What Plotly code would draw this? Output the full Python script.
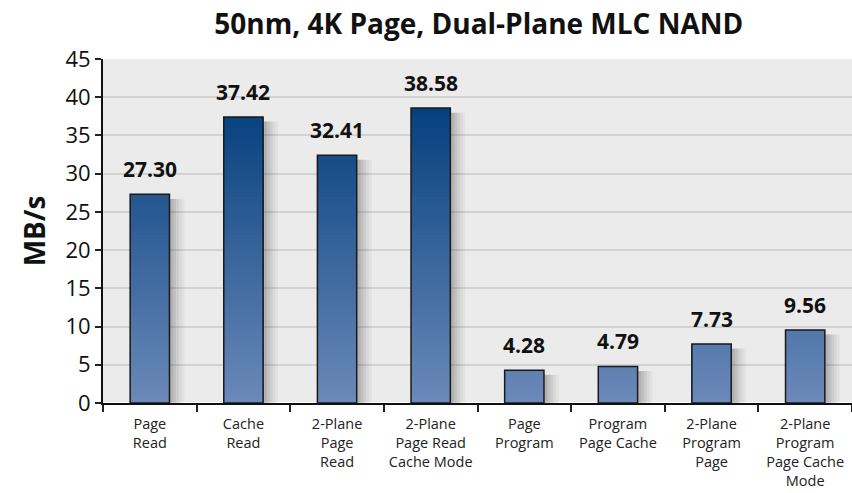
import plotly.graph_objects as go
import numpy as np

categories = ["Page<br>Read", "Cache<br>Read", "2-Plane<br>Page<br>Read",
              "2-Plane<br>Page Read<br>Cache Mode", "Page<br>Program",
              "Program<br>Page Cache", "2-Plane<br>Program<br>Page",
              "2-Plane<br>Program<br>Page Cache<br>Mode"]
values = [27.30, 37.42, 32.41, 38.58, 4.28, 4.79, 7.73, 9.56]
labels = ["27.30", "37.42", "32.41", "38.58", "4.28", "4.79", "7.73", "9.56"]

vals = np.array(values)
fig = go.Figure()

BW = 0.42
# soft shadow to the right of each bar
for ext, a in [(0.16, 0.035), (0.13, 0.04), (0.10, 0.05), (0.07, 0.06), (0.04, 0.07)]:
    fig.add_trace(go.Bar(x=categories, y=vals - 0.6, offset=-BW / 2, width=BW + ext,
                         marker=dict(color=f"rgba(0,0,0,{a})", line_width=0),
                         hoverinfo="skip", showlegend=False))

# gradient by absolute height
c_bot = np.array([108, 138, 186])
c_top = np.array([2, 62, 124])
h = 0.5
nb = int(np.ceil(vals.max() / h))
for j in range(nb - 1, -1, -1):
    top = (j + 1) * h
    t = min((j + 0.5) * h / 40.0, 1.0)
    c = (c_bot + (c_top - c_bot) * t).astype(int)
    fig.add_trace(go.Bar(x=categories, y=np.minimum(vals, top), width=BW,
                         marker=dict(color=f"rgb({c[0]},{c[1]},{c[2]})", line_width=0),
                         hoverinfo="skip", showlegend=False))

# outline
fig.add_trace(go.Bar(x=categories, y=vals, width=BW,
                     marker=dict(color="rgba(0,0,0,0)", line=dict(color="#1a1a1a", width=1.5)),
                     showlegend=False))

# value labels
for cat, v, lab in zip(categories, values, labels):
    fig.add_annotation(x=cat, y=v, text=f"<b>{lab}</b>", showarrow=False,
                       yanchor="bottom", yshift=9,
                       font=dict(family="Open Sans", size=21, color="#111111"))

fig.update_layout(
    width=852, height=493,
    margin=dict(l=103, r=0, t=59, b=90),
    barmode="overlay",
    paper_bgcolor="white",
    plot_bgcolor="#ebebeb",
    title=dict(text="<b>50nm, 4K Page, Dual-Plane MLC NAND</b>", x=0.562, xanchor="center",
               y=0.97, yanchor="top",
               font=dict(family="Open Sans", size=28, color="#111111")),
)
fig.update_xaxes(type="category", tickson="boundaries", ticks="outside", ticklen=7,
                 tickcolor="#222", tickwidth=1.5, showline=True, linecolor="#111",
                 linewidth=2, tickangle=0, automargin=False, ticklabelstandoff=7,
                 tickfont=dict(family="Open Sans", size=14.5, color="#222"),
                 showgrid=False)
fig.update_yaxes(range=[0, 45], dtick=5, ticks="outside", ticklen=6, tickcolor="#222",
                 tickwidth=1.5, showline=True, linecolor="#111", linewidth=2,
                 gridcolor="#d2d2d2", gridwidth=1.5, automargin=False,
                 tickfont=dict(family="Open Sans", size=22, color="#111"),
                 title=dict(text="<b>MB/s</b>", font=dict(family="Open Sans", size=28, color="#111"),
                            standoff=12))

fig.write_html("out.html")
